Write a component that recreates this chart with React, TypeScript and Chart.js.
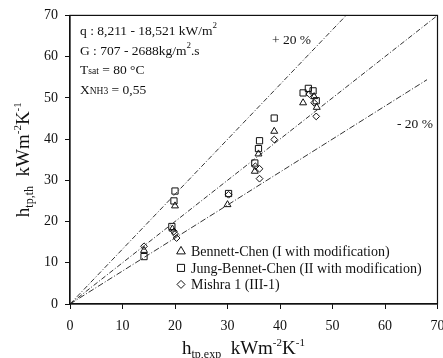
import { useEffect, useRef } from "react";
import { Chart, registerables } from "chart.js";

Chart.register(...registerables);

const FONT = "'Liberation Serif', 'Times New Roman', serif";

// Series names
const seriesNames = [
  "Bennett-Chen (I with modification)",
  "Jung-Bennet-Chen (II with modification)",
  "Mishra 1 (III-1)",
];

// Bennett-Chen (I with modification): experimental vs. predicted h_tp
const bennettExp = [14.1, 20.0, 19.5, 30.0, 35.9, 35.2, 38.9, 44.4, 46.5, 47.0];
const bennettTh = [13.0, 23.8, 18.2, 24.1, 36.4, 32.2, 41.9, 48.8, 50.3, 47.7];

// Jung-Bennet-Chen (II with modification)
const jungExp = [14.1, 20.0, 19.8, 19.4, 30.2, 36.1, 35.9, 35.2, 38.9, 45.4, 46.3, 44.4, 46.9];
const jungTh = [11.5, 27.4, 25.0, 18.8, 26.8, 39.6, 37.7, 34.2, 45.1, 52.3, 51.7, 51.2, 49.3];

// Mishra 1 (III-1)
const mishraExp = [14.1, 19.8, 20.0, 20.3, 30.2, 35.3, 36.1, 36.1, 38.9, 45.6, 46.5, 46.9];
const mishraTh = [14.0, 17.6, 17.0, 16.0, 26.5, 33.4, 32.8, 30.4, 39.9, 50.9, 48.8, 45.5];

// Reference lines (end points): +20 %, 1:1, -20 %
const plusLineX = [0, 52.6];
const plusLineY = [0, 70];
const equalLineX = [0, 70];
const equalLineY = [0, 70];
const minusLineX = [0, 68];
const minusLineY = [0, 54.4];

// Axis range and ticks
const axisMin = 0;
const axisMax = 70;
const axisStep = 10;

// Condition notes
const noteLines = [
  [{ t: "q : 8,211 - 18,521 kW/m", s: 13.5 }, { t: "2", s: 9, dy: -7 }],
  [{ t: "G : 707 - 2688kg/m", s: 13.5 }, { t: "2", s: 9, dy: -7 }, { t: ".s", s: 13.5 }],
  [{ t: "T", s: 13.5 }, { t: "sat", s: 9.5 }, { t: " = 80 °C", s: 13.5 }],
  [{ t: "X", s: 13.5 }, { t: "NH3", s: 9.5 }, { t: " = 0,55", s: 13.5 }],
];
const plusLabel = "+ 20 %";
const minusLabel = "- 20 %";

type Part = { t: string; s: number; dy?: number };

const xTitle: Part[] = [
  { t: "h", s: 19 },
  { t: "tp,exp", s: 12, dy: 4 },
  { t: "  kWm", s: 19 },
  { t: "-2", s: 11, dy: -8 },
  { t: "K", s: 19 },
  { t: "-1", s: 11, dy: -8 },
];
const yTitle: Part[] = [
  { t: "h", s: 19 },
  { t: "tp,th", s: 12, dy: 4 },
  { t: "  kWm", s: 19 },
  { t: "-2", s: 11, dy: -8 },
  { t: "K", s: 19 },
  { t: "-1", s: 11, dy: -8 },
];

function toPoints(xs: number[], ys: number[]) {
  return xs.map((x, i) => ({ x, y: ys[i] }));
}

function richWidth(ctx: CanvasRenderingContext2D, parts: Part[]) {
  let w = 0;
  for (const p of parts) {
    ctx.font = `${p.s}px ${FONT}`;
    w += ctx.measureText(p.t).width;
  }
  return w;
}

function drawRich(ctx: CanvasRenderingContext2D, x: number, y: number, parts: Part[]) {
  let cx = x;
  for (const p of parts) {
    ctx.font = `${p.s}px ${FONT}`;
    ctx.fillText(p.t, cx, y + (p.dy || 0));
    cx += ctx.measureText(p.t).width;
  }
}

function drawMarker(ctx: CanvasRenderingContext2D, style: string, x: number, y: number, r: number) {
  ctx.beginPath();
  if (style === "triangle") {
    ctx.moveTo(x - r * Math.sin(Math.PI / 3), y + r / 2);
    ctx.lineTo(x, y - r);
    ctx.lineTo(x + r * Math.sin(Math.PI / 3), y + r / 2);
    ctx.closePath();
  } else if (style === "rect") {
    const h = Math.SQRT1_2 * r;
    ctx.rect(x - h, y - h, 2 * h, 2 * h);
  } else {
    ctx.moveTo(x - r, y);
    ctx.lineTo(x, y - r);
    ctx.lineTo(x + r, y);
    ctx.lineTo(x, y + r);
    ctx.closePath();
  }
  ctx.stroke();
}

const markerStyles = ["triangle", "rect", "rectRot"];
const markerRadii = [4, 4.4, 3.4];

const decorPlugin = {
  id: "decor",
  afterDraw(chart: Chart) {
    const { ctx, chartArea } = chart;
    const { left, top, right, bottom } = chartArea;
    ctx.save();
    // frame
    ctx.strokeStyle = "#111";
    ctx.lineWidth = 1.2;
    ctx.strokeRect(left, top, right - left, bottom - top);

    ctx.fillStyle = "#111";
    ctx.textBaseline = "alphabetic";
    ctx.textAlign = "left";

    // condition notes
    noteLines.forEach((line, i) => {
      drawRich(ctx, left + 10, top + 19.5 + i * 19.6, line as Part[]);
    });

    // ±20 % labels
    ctx.font = `13.5px ${FONT}`;
    ctx.fillText(plusLabel, left + 202, top + 29);
    ctx.fillText(minusLabel, left + 327, top + 113);

    // legend
    chart.data.datasets.slice(3).forEach((ds, i) => {
      const y = top + 237 + i * 16.5;
      ctx.strokeStyle = "#111";
      ctx.lineWidth = 1;
      drawMarker(ctx, markerStyles[i], left + 111, y - 1, i === 2 ? 4 : 5);
      ctx.font = `14px ${FONT}`;
      ctx.fillText(ds.label as string, left + 121, y + 4);
    });

    // x-axis title
    drawRich(ctx, left + 112, bottom + 50, xTitle);

    // y-axis title (rotated)
    const w = richWidth(ctx, yTitle);
    ctx.translate(29, (top + bottom) / 2);
    ctx.rotate(-Math.PI / 2);
    drawRich(ctx, -w / 2, 0, yTitle);
    ctx.restore();
  },
};

function lineDataset(xs: number[], ys: number[], dash: number[]) {
  return {
    label: "",
    data: toPoints(xs, ys),
    showLine: true,
    borderColor: "#333",
    borderWidth: 1,
    borderDash: dash,
    pointRadius: 0,
    fill: false,
  };
}

function pointDataset(label: string, xs: number[], ys: number[], style: string, r: number) {
  return {
    label,
    data: toPoints(xs, ys),
    showLine: false,
    pointStyle: style,
    pointRadius: r,
    pointBorderColor: "#111",
    pointBackgroundColor: "rgba(0,0,0,0)",
    pointBorderWidth: 1,
  };
}

export default function App() {
  const ref = useRef<HTMLCanvasElement | null>(null);

  useEffect(() => {
    if (!ref.current) return;
    const tickFont = { family: FONT, size: 14 };
    const chart = new Chart(ref.current, {
      type: "scatter",
      data: {
        datasets: [
          lineDataset(plusLineX, plusLineY, [5, 2, 1, 2]),
          lineDataset(equalLineX, equalLineY, [5, 2, 1, 2]),
          lineDataset(minusLineX, minusLineY, [6, 2, 1, 2]),
          pointDataset(seriesNames[0], bennettExp, bennettTh, markerStyles[0], markerRadii[0]),
          pointDataset(seriesNames[1], jungExp, jungTh, markerStyles[1], markerRadii[1]),
          pointDataset(seriesNames[2], mishraExp, mishraTh, markerStyles[2], markerRadii[2]),
        ] as any,
      },
      options: {
        animation: false,
        responsive: false,
        devicePixelRatio: 1,
        layout: { padding: { top: 13, right: 5.5, left: 0, bottom: 0 } },
        plugins: { legend: { display: false }, tooltip: { enabled: false } },
        scales: {
          x: {
            type: "linear",
            min: axisMin,
            max: axisMax,
            ticks: { stepSize: axisStep, color: "#111", font: tickFont, padding: 9, maxRotation: 0 },
            grid: { drawOnChartArea: false, tickLength: 5, color: "#111" },
            border: { color: "#111", width: 1.2 },
            afterFit(s: any) {
              s.height = 54;
              s.paddingLeft = 0;
              s.paddingRight = 0;
            },
          },
          y: {
            type: "linear",
            min: axisMin,
            max: axisMax,
            ticks: { stepSize: axisStep, color: "#111", font: tickFont, padding: 7 },
            grid: { drawOnChartArea: false, tickLength: 5, color: "#111" },
            border: { color: "#111", width: 1.2 },
            afterFit(s: any) {
              s.width = 70;
            },
          },
        },
      } as any,
      plugins: [decorPlugin as any],
    });
    return () => chart.destroy();
  }, []);

  return (
    <div style={{ position: "absolute", left: 0, top: 0, width: 443, height: 358, background: "#fff" }}>
      <canvas ref={ref} width={443} height={358} />
    </div>
  );
}
